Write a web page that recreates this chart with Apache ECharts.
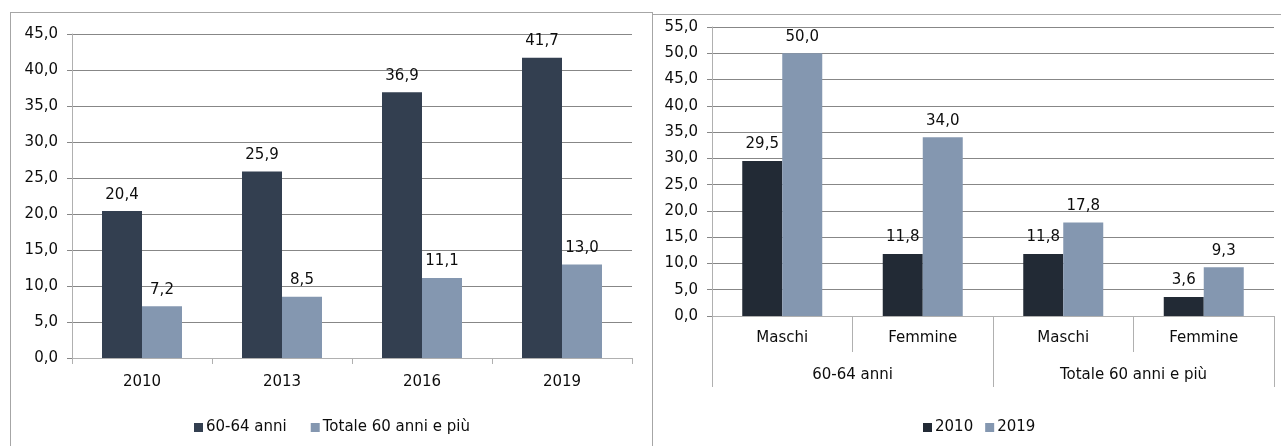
<!DOCTYPE html>
<html>
<head>
<meta charset="utf-8">
<script src="https://cdn.jsdelivr.net/npm/echarts@6/dist/echarts.min.js"></script>
<style>
  html, body { margin: 0; padding: 0; background: #fff; overflow: hidden; }
  #wrap { position: relative; width: 1281px; height: 446px; }
  .frame { position: absolute; border: 1px solid #a6a6a6; box-sizing: border-box; }
  #f1 { left: 10px; top: 12px; width: 643px; height: 460px; }
  #f2 { left: 652px; top: 14px; width: 700px; height: 460px; }
  #chart { position: absolute; left: 0; top: 0; width: 1281px; height: 446px; }
</style>
</head>
<body>
<div id="wrap">
  <div class="frame" id="f1"></div>
  <div class="frame" id="f2"></div>
  <div id="chart"></div>
</div>
<script>
// Left chart
const yearsLeft = ['2010', '2013', '2016', '2019'];
const seriesLeftNames = ['60-64 anni', 'Totale 60 anni e più'];
const values6064 = [20.4, 25.9, 36.9, 41.7];
const valuesTotale = [7.2, 8.5, 11.1, 13.0];

// Right chart
const sexCategories = ['Maschi', 'Femmine', 'Maschi', 'Femmine'];
const ageGroups = ['60-64 anni', 'Totale 60 anni e più'];
const seriesRightNames = ['2010', '2019'];
const values2010 = [29.5, 11.8, 11.8, 3.6];
const values2019 = [50.0, 34.0, 17.8, 9.3];

const FONT = 'DejaVu Sans';
const fmt = v => Number(v).toFixed(1).replace('.', ',');
const GRID_C = '#878787';
const AXIS_C = '#b0b0b0';
const TEXT_C = '#0d0d0d';

const label = {
  show: true, position: 'top', distance: 9,
  color: TEXT_C, fontFamily: FONT, fontSize: 15,
  formatter: p => fmt(p.value)
};

const chart = echarts.init(document.getElementById('chart'), null, { renderer: 'canvas' });
chart.setOption({
  backgroundColor: 'transparent',
  animation: false,
  textStyle: { fontFamily: FONT },
  grid: [
    { left: 72, top: 34, width: 560, height: 324 },
    { left: 712, top: 27, width: 562, height: 289 }
  ],
  legend: [
    {
      data: seriesLeftNames, left: 189, top: 415,
      itemWidth: 9, itemHeight: 9, itemGap: 24, icon: 'rect',
      textStyle: { fontFamily: FONT, fontSize: 15, color: TEXT_C, padding: [0, 0, 0, -2] }
    },
    {
      data: seriesRightNames, left: 918, top: 415,
      itemWidth: 9, itemHeight: 9, itemGap: 12, icon: 'rect',
      textStyle: { fontFamily: FONT, fontSize: 15, color: TEXT_C, padding: [0, 0, 0, -2] }
    }
  ],
  xAxis: [
    {
      type: 'category', gridIndex: 0, data: yearsLeft,
      axisLine: { show: true, lineStyle: { color: AXIS_C } },
      axisTick: { show: true, alignWithLabel: false, interval: 0, length: 6, lineStyle: { color: AXIS_C } },
      axisLabel: { margin: 17, fontFamily: FONT, fontSize: 15, color: TEXT_C }
    },
    {
      type: 'category', gridIndex: 1, data: sexCategories,
      axisLine: { show: true, lineStyle: { color: AXIS_C } },
      axisTick: { show: true, alignWithLabel: false, interval: 0, length: 36, lineStyle: { color: AXIS_C } },
      axisLabel: { margin: 15, fontFamily: FONT, fontSize: 15, color: TEXT_C }
    },
    {
      type: 'category', gridIndex: 1, data: ageGroups, position: 'bottom',
      axisLine: { show: false },
      axisTick: { show: true, alignWithLabel: false, interval: 0, length: 71, lineStyle: { color: AXIS_C } },
      axisLabel: { margin: 52, fontFamily: FONT, fontSize: 15, color: TEXT_C }
    }
  ],
  yAxis: [
    {
      type: 'value', gridIndex: 0, min: 0, max: 45, interval: 5,
      axisLine: { show: true, lineStyle: { color: AXIS_C } },
      axisTick: { show: true, length: 5, lineStyle: { color: GRID_C } },
      splitLine: { show: true, lineStyle: { color: GRID_C } },
      axisLabel: { margin: 14, fontFamily: FONT, fontSize: 15, color: TEXT_C, formatter: fmt }
    },
    {
      type: 'value', gridIndex: 1, min: 0, max: 55, interval: 5,
      axisLine: { show: true, lineStyle: { color: AXIS_C } },
      axisTick: { show: true, length: 5, lineStyle: { color: GRID_C } },
      splitLine: { show: true, lineStyle: { color: GRID_C } },
      axisLabel: { margin: 14, fontFamily: FONT, fontSize: 15, color: TEXT_C, formatter: fmt }
    }
  ],
  series: [
    {
      name: seriesLeftNames[0], type: 'bar', xAxisIndex: 0, yAxisIndex: 0,
      data: values6064, barWidth: 40, barGap: '0%',
      itemStyle: { color: '#333f50' }, label
    },
    {
      name: seriesLeftNames[1], type: 'bar', xAxisIndex: 0, yAxisIndex: 0,
      data: valuesTotale, barWidth: 40, barGap: '0%',
      itemStyle: { color: '#8497b0' }, label
    },
    {
      name: seriesRightNames[0], type: 'bar', xAxisIndex: 1, yAxisIndex: 1,
      data: values2010, barWidth: 40, barGap: '0%',
      itemStyle: { color: '#222a35' }, label
    },
    {
      name: seriesRightNames[1], type: 'bar', xAxisIndex: 1, yAxisIndex: 1,
      data: values2019, barWidth: 40, barGap: '0%',
      itemStyle: { color: '#8497b0' }, label
    }
  ]
});
</script>
</body>
</html>
